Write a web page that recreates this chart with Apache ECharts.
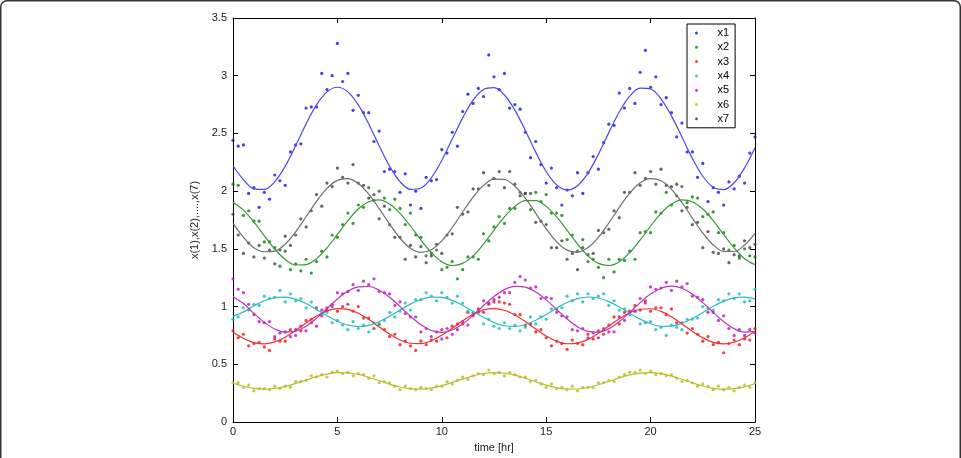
<!DOCTYPE html>
<html>
<head>
<meta charset="utf-8">
<script src="https://cdn.jsdelivr.net/npm/echarts@6/dist/echarts.min.js"></script>
<style>
  html, body { margin: 0; padding: 0; background: #fff; }
  #chart { width: 961px; height: 458px; }
</style>
</head>
<body>
<div id="chart"></div>
<script>
// sample times of the measured points and of the fitted curves (hours)
const tDots = [0,0.25,0.5,0.75,1,1.25,1.5,1.75,2,2.25,2.5,2.75,3,3.25,3.5,3.75,4,4.25,4.5,4.75,
  5,5.25,5.5,5.75,6,6.25,6.5,6.75,7,7.25,7.5,7.75,8,8.25,8.5,8.75,9,9.25,9.5,9.75,
  10,10.25,10.5,10.75,11,11.25,11.5,11.75,12,12.25,12.5,12.75,13,13.25,13.5,13.75,14,14.25,14.5,14.75,
  15,15.25,15.5,15.75,16,16.25,16.5,16.75,17,17.25,17.5,17.75,18,18.25,18.5,18.75,19,19.25,19.5,19.75,
  20,20.25,20.5,20.75,21,21.25,21.5,21.75,22,22.25,22.5,22.75,23,23.25,23.5,23.75,24,24.25,24.5,24.75,25];
const tFit = [0,0.5,1,1.5,2,2.5,3,3.5,4,4.5,5,5.5,6,6.5,7,7.5,8,8.5,9,9.5,
  10,10.5,11,11.5,12,12.5,13,13.5,14,14.5,15,15.5,16,16.5,17,17.5,18,18.5,19,19.5,
  20,20.5,21,21.5,22,22.5,23,23.5,24,24.5,25];

const seriesNames = ['x1', 'x2', 'x3', 'x4', 'x5', 'x6', 'x7'];

// measured points
const dotsX1 = [2.44,2.39,2.40,1.98,2.03,1.86,1.99,1.93,2.14,2.09,2.05,2.34,2.40,2.41,2.72,2.73,2.73,3.02,2.88,3.00,
  3.28,2.95,3.02,2.70,2.83,2.68,2.68,2.43,2.52,2.17,2.19,2.17,1.99,2.15,1.88,2.00,1.85,2.12,2.09,2.10,
  2.36,2.33,2.51,2.39,2.69,2.84,2.76,2.89,2.82,3.18,2.99,2.88,3.02,2.72,2.75,2.71,2.51,2.29,2.43,2.23,
  2.07,2.20,2.03,1.88,2.01,1.96,2.16,1.98,2.16,2.30,2.19,2.42,2.58,2.57,2.85,2.72,2.89,2.76,3.03,3.22,
  2.90,2.99,2.75,2.81,2.68,2.47,2.59,2.34,2.34,2.12,2.24,1.91,2.03,1.99,1.88,2.08,2.02,2.13,2.07,2.33,2.47];
const dotsX2 = [2.06,2.05,1.79,1.83,1.74,1.74,1.56,1.56,1.51,1.35,1.48,1.32,1.37,1.31,1.41,1.29,1.39,1.48,1.43,1.62,
  1.60,1.71,1.81,1.72,1.88,1.86,2.03,1.92,2.00,1.94,1.84,1.93,1.85,1.71,1.81,1.62,1.60,1.44,1.46,1.49,
  1.32,1.34,1.39,1.24,1.32,1.43,1.43,1.41,1.63,1.57,1.69,1.78,1.72,1.85,1.85,1.99,1.98,1.84,1.99,1.91,
  1.97,1.81,1.81,1.79,1.58,1.62,1.48,1.58,1.39,1.41,1.34,1.25,1.41,1.30,1.41,1.40,1.48,1.41,1.64,1.65,
  1.64,1.82,1.81,1.99,1.88,1.96,2.04,1.90,1.95,1.94,1.78,1.80,1.82,1.64,1.64,1.49,1.53,1.42,1.50,1.44,1.43];
const dotsX3 = [0.79,0.73,0.76,0.66,0.68,0.69,0.65,0.62,0.72,0.70,0.70,0.80,0.80,0.79,0.88,0.89,0.99,0.92,0.99,1.02,
  0.96,1.00,1.02,0.96,1.00,0.90,0.90,0.81,0.85,0.80,0.74,0.76,0.67,0.70,0.66,0.62,0.70,0.67,0.71,0.70,
  0.80,0.73,0.83,0.85,0.85,0.95,0.94,0.98,0.95,1.02,1.04,1.04,1.03,1.02,0.93,0.93,0.84,0.85,0.78,0.80,
  0.73,0.66,0.70,0.68,0.63,0.71,0.68,0.67,0.76,0.72,0.79,0.76,0.84,0.91,0.85,0.95,0.96,1.01,0.97,1.05,
  0.96,0.99,0.99,0.93,0.98,0.86,0.86,0.77,0.81,0.76,0.70,0.74,0.67,0.69,0.60,0.68,0.71,0.67,0.72,0.71,0.81];
const dotsX4 = [0.89,0.91,0.99,0.97,1.02,1.01,1.09,1.07,1.08,1.14,1.04,1.11,1.05,1.07,0.99,1.04,0.98,0.93,0.95,0.86,
  0.88,0.84,0.80,0.87,0.81,0.84,0.78,0.86,0.84,0.88,0.95,0.91,0.96,1.03,0.97,1.06,1.06,1.12,1.09,1.05,
  1.12,1.08,1.03,1.09,1.03,0.96,0.95,0.96,0.85,0.89,0.83,0.81,0.86,0.81,0.84,0.79,0.82,0.91,0.85,0.91,
  0.89,0.98,0.98,0.99,1.09,1.05,1.11,1.04,1.11,1.07,1.09,1.11,1.01,1.05,0.97,0.98,0.93,0.96,0.85,0.86,
  0.87,0.80,0.82,0.75,0.84,0.82,0.80,0.89,0.89,0.90,1.00,0.98,0.97,1.06,1.05,1.11,1.07,1.11,1.04,1.05,1.15];
const dotsX5 = [1.24,1.15,1.12,1.02,0.93,0.87,0.86,0.87,0.74,0.77,0.78,0.74,0.75,0.83,0.79,0.86,0.83,0.97,0.97,1.00,
  1.12,1.11,1.13,1.19,1.14,1.22,1.19,1.24,1.13,1.12,1.11,1.01,1.04,0.94,0.91,0.91,0.78,0.81,0.74,0.78,
  0.72,0.81,0.76,0.80,0.87,0.84,0.92,0.95,1.05,1.03,1.06,1.08,1.12,1.12,1.21,1.26,1.23,1.16,1.17,1.07,
  1.08,1.07,0.95,0.92,0.91,0.80,0.79,0.81,0.73,0.77,0.73,0.81,0.78,0.78,0.91,0.88,0.95,0.96,1.07,1.03,
  1.17,1.15,1.16,1.21,1.14,1.22,1.17,1.20,1.09,1.08,1.06,0.95,0.95,0.88,0.92,0.81,0.75,0.80,0.75,0.80,0.77];
const dotsX6 = [0.34,0.34,0.30,0.32,0.27,0.29,0.29,0.28,0.31,0.29,0.31,0.30,0.35,0.35,0.36,0.40,0.39,0.41,0.39,0.43,
  0.44,0.42,0.43,0.40,0.42,0.41,0.38,0.40,0.34,0.35,0.34,0.31,0.28,0.31,0.29,0.28,0.30,0.29,0.28,0.31,
  0.31,0.35,0.33,0.36,0.39,0.37,0.40,0.42,0.41,0.45,0.42,0.43,0.40,0.43,0.41,0.39,0.39,0.35,0.36,0.33,
  0.30,0.33,0.29,0.30,0.28,0.31,0.27,0.30,0.30,0.30,0.34,0.34,0.36,0.35,0.39,0.41,0.43,0.43,0.45,0.42,
  0.44,0.41,0.42,0.40,0.41,0.38,0.35,0.36,0.34,0.31,0.33,0.31,0.28,0.31,0.28,0.30,0.27,0.30,0.32,0.30,0.34];
const dotsX7 = [1.80,1.62,1.46,1.55,1.43,1.53,1.42,1.49,1.37,1.49,1.61,1.53,1.62,1.76,1.69,1.83,1.97,1.87,2.07,2.04,
  2.20,2.12,2.07,2.23,2.07,2.05,1.94,1.97,1.76,1.87,1.71,1.60,1.60,1.41,1.53,1.43,1.52,1.38,1.44,1.54,
  1.46,1.62,1.63,1.86,1.80,1.82,2.02,2.02,2.16,2.05,2.11,2.17,2.03,2.17,2.06,1.96,1.98,1.98,1.73,1.74,
  1.71,1.51,1.51,1.57,1.41,1.46,1.32,1.51,1.45,1.46,1.66,1.64,1.67,1.83,1.77,1.99,1.99,2.16,2.05,2.11,
  2.17,2.06,2.19,2.05,2.04,2.06,1.83,1.86,1.71,1.73,1.51,1.65,1.47,1.46,1.50,1.38,1.45,1.44,1.57,1.51,1.54];

// fitted model curves
const fitX1 = [2.22,2.10,2.02,2.015,2.082,2.216,2.394,2.582,2.747,2.860,2.900,2.860,2.747,2.582,2.394,2.216,2.082,2.015,2.027,2.116,
  2.266,2.451,2.635,2.788,2.880,2.896,2.833,2.702,2.526,2.338,2.170,2.054,2.010,2.047,2.156,2.320,2.507,2.686,2.823,2.893,
  2.885,2.800,2.652,2.469,2.284,2.129,2.033,2.013,2.072,2.200,2.375];
const fitX2 = [1.904,1.836,1.733,1.613,1.498,1.408,1.360,1.363,1.415,1.508,1.625,1.744,1.845,1.908,1.924,1.888,1.808,1.698,1.576,1.467,
  1.389,1.356,1.374,1.439,1.542,1.661,1.777,1.868,1.918,1.918,1.868,1.777,1.661,1.542,1.439,1.374,1.356,1.389,1.467,1.577,
  1.698,1.808,1.888,1.924,1.908,1.845,1.744,1.625,1.508,1.415,1.363];
const fitX3 = [0.780,0.724,0.688,0.677,0.694,0.735,0.793,0.858,0.918,0.962,0.982,0.975,0.942,0.888,0.824,0.762,0.711,0.682,0.679,0.704,
  0.751,0.813,0.877,0.933,0.971,0.983,0.968,0.927,0.870,0.805,0.745,0.700,0.678,0.684,0.716,0.769,0.832,0.895,0.947,0.977,
  0.981,0.958,0.912,0.850,0.786,0.729,0.690,0.677,0.691,0.730,0.787];
const fitX4 = [0.915,0.954,1.007,1.051,1.077,1.082,1.064,1.026,0.975,0.921,0.873,0.840,0.827,0.837,0.869,0.916,0.970,1.021,1.061,1.081,
  1.079,1.054,1.012,0.959,0.906,0.861,0.834,0.828,0.845,0.882,0.932,0.986,1.035,1.069,1.083,1.074,1.043,0.997,0.943,0.891,
  0.851,0.829,0.831,0.854,0.896,0.948,1.002,1.047,1.076,1.082,1.066];
const fitX5 = [1.085,1.026,0.941,0.863,0.805,0.778,0.787,0.830,0.900,0.983,1.066,1.132,1.170,1.174,1.142,1.081,1.000,0.916,0.843,0.793,
  0.777,0.797,0.849,0.924,1.009,1.088,1.147,1.175,1.168,1.126,1.058,0.975,0.892,0.825,0.785,0.779,0.809,0.870,0.949,1.034,
  1.108,1.159,1.177,1.159,1.108,1.034,0.949,0.870,0.809,0.779,0.785];
const fitX6 = [0.337,0.310,0.291,0.284,0.290,0.308,0.334,0.364,0.393,0.415,0.427,0.426,0.412,0.388,0.358,0.328,0.303,0.288,0.284,0.294,
  0.315,0.343,0.373,0.401,0.420,0.428,0.423,0.406,0.379,0.349,0.320,0.297,0.285,0.286,0.299,0.323,0.352,0.382,0.408,0.424,
  0.428,0.419,0.398,0.370,0.340,0.312,0.292,0.284,0.289,0.305,0.331];
const fitX7 = [1.72,1.60,1.51,1.475,1.480,1.541,1.647,1.778,1.912,2.024,2.093,2.108,2.066,1.974,1.849,1.714,1.592,1.505,1.470,1.493,
  1.569,1.685,1.819,1.949,2.050,2.104,2.101,2.043,1.939,1.808,1.674,1.561,1.489,1.471,1.511,1.600,1.724,1.860,1.983,2.072,
  2.109,2.090,2.016,1.902,1.767,1.637,1.534,1.478,1.477,1.533,1.635];

const xTicks = [0, 5, 10, 15, 20, 25];
const yTicks = [0, 0.5, 1, 1.5, 2, 2.5, 3, 3.5];

const dots = [dotsX1, dotsX2, dotsX3, dotsX4, dotsX5, dotsX6, dotsX7];
const fits = [fitX1, fitX2, fitX3, fitX4, fitX5, fitX6, fitX7];
const dotColors = ['#1010f0', '#0a800a', '#f01010', '#10bcbc', '#bc10bc', '#bcbc10', '#404040'];
const lineColors = ['#4848ee', '#339933', '#ee3030', '#33bbbb', '#bb33bb', '#bbbb33', '#6e6e6e'];

const font = 'Liberation Sans, Arial, sans-serif';

const zip = (xs, ys) => ys.map((y, i) => [xs[i], y]);

const series = [];
seriesNames.forEach((name, i) => {
  series.push({
    name: name,
    type: 'scatter',
    symbol: 'circle',
    symbolSize: 3.2,
    itemStyle: { color: dotColors[i] },
    data: zip(tDots, dots[i]),
    z: 2,
  });
});
seriesNames.forEach((name, i) => {
  series.push({
    name: name + ' fit',
    type: 'line',
    smooth: 0.35,
    symbol: 'none',
    lineStyle: { color: lineColors[i], width: 1.2 },
    data: zip(tFit, fits[i]),
    z: 3,
  });
});

const tickStyle = { show: true, inside: true, length: 5, lineStyle: { color: '#000', width: 1 } };

const option = {
  animation: false,
  backgroundColor: '#fff',
  grid: { left: 233, right: 206, top: 18, bottom: 28, show: false },
  graphic: [
    {
      type: 'rect',
      shape: { x: 0.75, y: 0.75, width: 959.5, height: 490, r: 6 },
      style: { fill: 'none', stroke: '#333', lineWidth: 1.5 },
      silent: true,
    },
  ],
  legend: {
    data: seriesNames,
    orient: 'vertical',
    left: 687,
    top: 24,
    padding: [2, 6, 2, 8],
    itemWidth: 32,
    itemHeight: 3,
    itemGap: 0.3,
    icon: 'circle',
    borderColor: '#000',
    borderWidth: 1,
    backgroundColor: '#fff',
    selectedMode: false,
    textStyle: { color: '#000', fontSize: 11, lineHeight: 14, fontFamily: font },
  },
  xAxis: [
    {
      type: 'value',
      min: 0,
      max: 25,
      interval: 5,
      name: 'time [hr]',
      nameLocation: 'middle',
      nameGap: 20,
      nameTextStyle: { color: '#222', fontSize: 11, fontFamily: font },
      axisLine: { show: true, onZero: false, lineStyle: { color: '#000', width: 1 } },
      axisTick: tickStyle,
      axisLabel: { color: '#222', fontSize: 11, margin: 4, fontFamily: font },
      splitLine: { show: false },
    },
    {
      type: 'value',
      position: 'top',
      min: 0,
      max: 25,
      interval: 5,
      axisLine: { show: true, onZero: false, lineStyle: { color: '#000', width: 1 } },
      axisTick: tickStyle,
      axisLabel: { show: false },
      splitLine: { show: false },
    },
  ],
  yAxis: [
    {
      type: 'value',
      min: 0,
      max: 3.5,
      interval: 0.5,
      name: 'x(1),x(2),....,x(7)',
      nameLocation: 'middle',
      nameGap: 18,
      nameTextStyle: { color: '#222', fontSize: 11, fontFamily: font },
      axisLine: { show: true, onZero: false, lineStyle: { color: '#000', width: 1 } },
      axisTick: tickStyle,
      axisLabel: {
        color: '#222',
        fontSize: 11,
        margin: 6,
        fontFamily: font,
        formatter: (v) => (yTicks.includes(v) ? String(v) : ''),
      },
      splitLine: { show: false },
    },
    {
      type: 'value',
      position: 'right',
      min: 0,
      max: 3.5,
      interval: 0.5,
      axisLine: { show: true, onZero: false, lineStyle: { color: '#000', width: 1 } },
      axisTick: tickStyle,
      axisLabel: { show: false },
      splitLine: { show: false },
    },
  ],
  series: series,
};

option.xAxis[0].axisLabel.formatter = (v) => (xTicks.includes(v) ? String(v) : '');

const chart = echarts.init(document.getElementById('chart'), null, { renderer: 'canvas' });
chart.setOption(option);
</script>
</body>
</html>
